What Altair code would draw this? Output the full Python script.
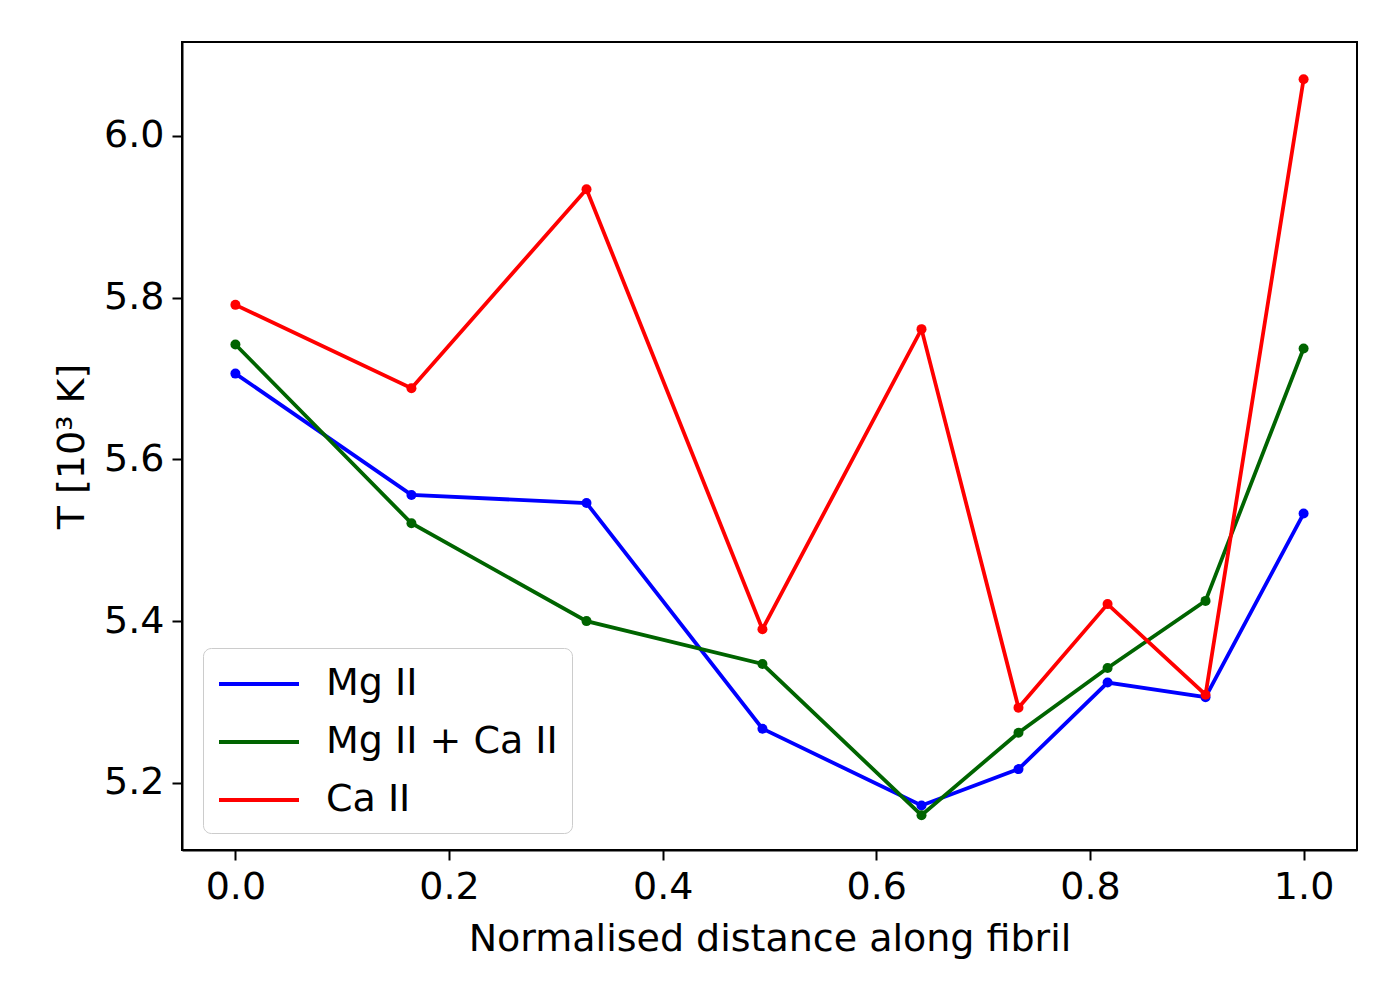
import altair as alt
import pandas as pd

x_vals = [0.0, 0.1648, 0.3287, 0.4934, 0.6423, 0.7331, 0.8165, 0.9082, 1.0]
mg = [5.706, 5.556, 5.546, 5.267, 5.172, 5.217, 5.324, 5.306, 5.533]
mgca = [5.742, 5.521, 5.400, 5.347, 5.160, 5.262, 5.342, 5.425, 5.737]
ca = [5.791, 5.688, 5.934, 5.390, 5.761, 5.293, 5.421, 5.309, 6.070]
series_names = ["Mg II", "Mg II + Ca II", "Ca II"]
series_colors = ["#0000ff", "#006400", "#ff0000"]

rows = []
for name, vals in zip(series_names, [mg, mgca, ca]):
    for i, (xv, yv) in enumerate(zip(x_vals, vals)):
        rows.append({"x": xv, "T": yv, "series": name, "order": i})
df = pd.DataFrame(rows)

FONT = "DejaVu Sans"
FS = 38

color = alt.Color(
    "series:N",
    scale=alt.Scale(domain=series_names, range=series_colors),
    sort=series_names,
)

xenc = alt.X(
    "x:Q",
    scale=alt.Scale(domain=[-0.05, 1.05], nice=False, zero=False),
    axis=alt.Axis(title="Normalised distance along fibril", values=[0, 0.2, 0.4, 0.6, 0.8, 1.0], format=".1f"),
)
yenc = alt.Y(
    "T:Q",
    scale=alt.Scale(domain=[5.117, 6.116], nice=False, zero=False),
    axis=alt.Axis(title="T [10³ K]", values=[5.2, 5.4, 5.6, 5.8, 6.0], format=".1f"),
)

lines = alt.Chart(df).mark_line(strokeWidth=3.8).encode(
    x=xenc,
    y=yenc,
    order="order:Q",
    color=color.legend(
        title=None,
        orient="none",
        legendX=21,
        legendY=606,
        symbolType="M-1,0H3",
        symbolSize=1600,
        symbolStrokeWidth=4,
        symbolFillColor="transparent",
        labelFontSize=FS,
        labelFont=FONT,
        labelColor="black",
        labelLimit=600,
        strokeColor="#cccccc",
        cornerRadius=8,
        padding=14,
        rowPadding=17,
        fillColor="white",
        labelOffset=65,
    ),
)
points = alt.Chart(df).mark_point(filled=True, size=100, opacity=1).encode(
    x=xenc,
    y=yenc,
    color=alt.Color("series:N", scale=alt.Scale(domain=series_names, range=series_colors), legend=None),
)

chart = (
    alt.layer(lines, points)
    .properties(width=1175, height=808, padding={"left": 45, "top": 34, "right": 10, "bottom": 10})
    .configure_view(stroke="black", strokeWidth=2)
    .configure_axis(
        labelFont=FONT,
        titleFont=FONT,
        labelFontSize=FS,
        titleFontSize=FS,
        titleFontWeight="normal",
        labelColor="black",
        titleColor="black",
        tickColor="black",
        domainColor="black",
        tickSize=10,
        tickWidth=2,
        domainWidth=2,
        grid=False,
        labelPadding=8,
        titlePadding=14,
    )
    .configure_axisY(titlePadding=12)
)

chart.save("out.html", embed_options={"renderer": "svg", "actions": False})
